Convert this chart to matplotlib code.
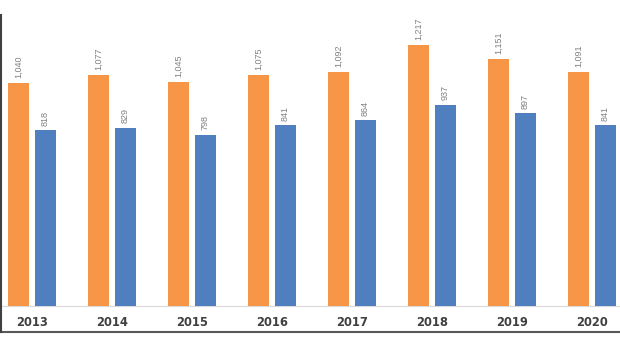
import matplotlib
matplotlib.use("Agg")
import matplotlib.pyplot as plt
from matplotlib.lines import Line2D
import matplotlib.transforms as mtransforms
import numpy as np

years = ["2013", "2014", "2015", "2016", "2017", "2018", "2019", "2020"]
series_orange = [1040, 1077, 1045, 1075, 1092, 1217, 1151, 1091]
series_blue = [818, 829, 798, 841, 864, 937, 897, 841]
orange_labels = ["1,040", "1,077", "1,045", "1,075", "1,092", "1,217", "1,151", "1,091"]
blue_labels = ["818", "829", "798", "841", "864", "937", "897", "841"]

W, H = 620, 350
fig = plt.figure(figsize=(W / 100, H / 100), dpi=100)
ax = fig.add_axes([0, 0, 1, 1])
ax.set_xlim(-0.4, -0.4 + W / 80)
scale = 0.2147
ax.set_ylim(-44 / scale, (H - 44) / scale)
ax.axis("off")

x = np.arange(len(years))
off = 13.5 / 80
bw = 21.5 / 80
c_or = "#F79646"
c_bl = "#4F7FBE"
ax.bar(x - off, series_orange, width=bw, color=c_or, zorder=2)
ax.bar(x + off, series_blue, width=bw, color=c_bl, zorder=2)

for xi, v, lab in zip(x - off, series_orange, orange_labels):
    ax.annotate(lab, (xi, v), xytext=(0, 3.5), textcoords="offset points",
                rotation=90, ha="center", va="bottom", fontsize=6.5,
                family="Liberation Sans", color="#808080")
for xi, v, lab in zip(x + off, series_blue, blue_labels):
    ax.annotate(lab, (xi, v), xytext=(0, 3.5), textcoords="offset points",
                rotation=90, ha="center", va="bottom", fontsize=6.5,
                family="Liberation Sans", color="#808080")

trans = mtransforms.blended_transform_factory(ax.transData, fig.transFigure)
for xi, yr in zip(x, years):
    ax.text(xi, 1 - 323 / H, yr, transform=trans, ha="center", va="center",
            fontsize=8.3, fontweight="bold", color="#404040")

# baseline
ax.axhline(0, color="#d9d9d9", lw=0.8, zorder=1)
# frame lines (left and bottom of the cropped screenshot)
fig.add_artist(Line2D([0, 1], [1 - 332 / H, 1 - 332 / H], transform=fig.transFigure,
                      color="#595959", lw=1.5))
fig.add_artist(Line2D([0.7 / W, 0.7 / W], [1 - 15 / H, 1 - 332 / H], transform=fig.transFigure,
                      color="#404040", lw=1.5))

fig.savefig("out.png", dpi=100)
